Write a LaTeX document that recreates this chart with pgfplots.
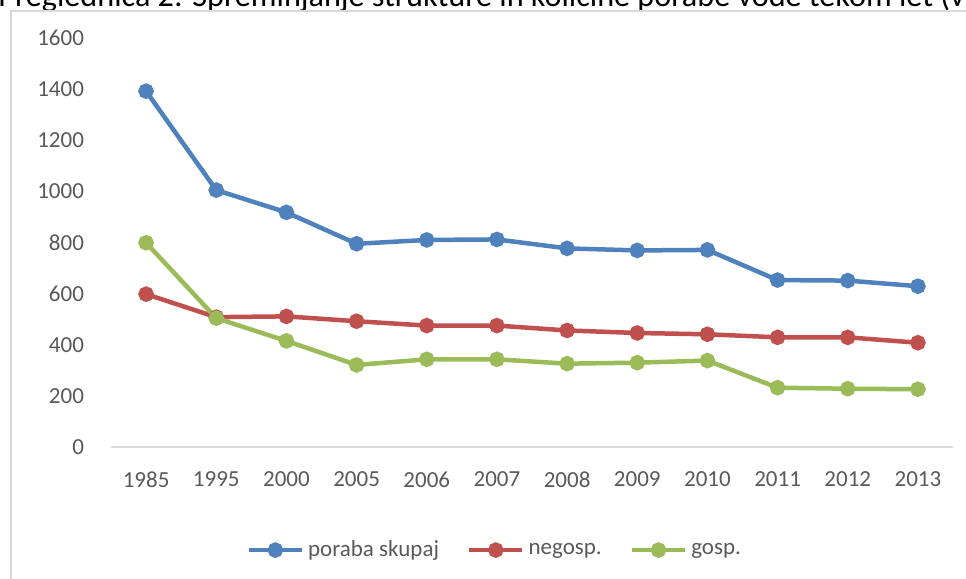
\documentclass[border=0pt]{standalone}
\usepackage{pgfplots}
\pgfplotsset{compat=1.18}
\usepackage{fontspec}
\setmainfont{Carlito}
\definecolor{cblue}{HTML}{4F81BD}
\definecolor{cred}{HTML}{C0504D}
\definecolor{cgreen}{HTML}{9BBB59}
\definecolor{ctext}{HTML}{595959}
\definecolor{cframe}{HTML}{D9D9D9}
\begin{document}
\begin{tikzpicture}
\path[use as bounding box] (0pt,0pt) rectangle (483pt,-289.5pt);
\clip (0pt,0pt) rectangle (483pt,-289.5pt);
\node[anchor=base west, inner sep=0pt, font=\fontsize{16.1}{18}\selectfont, text=black] at (-1pt,-3.4pt) {Preglednica 2: Spreminjanje strukture in količine porabe vode tekom let (v};
\draw[cframe, line width=1pt] (5.25pt,-300pt) -- (5.25pt,-5.25pt) -- (500pt,-5.25pt);
\begin{axis}[
  at={(55.5pt,-223.5pt)}, anchor=south west,
  scale only axis, width=421pt, height=204.5pt,
  xmin=-0.5, xmax=11.5, ymin=0, ymax=1600,
  axis y line*=left, axis x line*=bottom,
  y axis line style={draw=none},
  x axis line style={cframe, line width=1pt, -},
  xtick=data,
  xticklabels={1985,1995,2000,2005,2006,2007,2008,2009,2010,2011,2012,2013},
  ytick={0,200,...,1600},
  major tick length=0pt,
  /pgf/number format/assume math mode=true,
  /pgf/number format/1000 sep={},
  tick label style={font=\fontsize{11.5}{13}\selectfont, text=ctext},
  xticklabel style={yshift=-9pt},
  yticklabel style={anchor=east, xshift=-10pt},
  clip=false,
  every axis plot/.append style={line width=2.25pt, mark=*, mark size=2.75pt},
  legend columns=3,
  legend style={at={(0.457,-0.252)}, anchor=center, draw=none, fill=none,
    font=\fontsize{11.5}{13}\selectfont, text=ctext,
    /tikz/every even column/.append style={column sep=12pt}},
  legend cell align=left,
  legend image code/.code={\draw[#1,mark repeat=2,mark phase=2] plot coordinates {(0pt,0pt) (13.25pt,0pt) (26.5pt,0pt)};},
]
\addplot[cblue, mark options={fill=cblue, draw=cblue}] coordinates {
 (0,1392) (1,1005) (2,918) (3,795) (4,810) (5,812) (6,777) (7,769) (8,771) (9,653) (10,651) (11,629)};
\addlegendentry{poraba skupaj}
\addplot[cred, mark options={fill=cred, draw=cred}] coordinates {
 (0,598) (1,508) (2,511) (3,492) (4,475) (5,475) (6,456) (7,446) (8,441) (9,429) (10,429) (11,408)};
\addlegendentry{negosp.}
\addplot[cgreen, mark options={fill=cgreen, draw=cgreen}] coordinates {
 (0,799) (1,504) (2,415) (3,321) (4,343) (5,343) (6,326) (7,330) (8,338) (9,232) (10,228) (11,226)};
\addlegendentry{gosp.}
\end{axis}
\end{tikzpicture}
\end{document}
